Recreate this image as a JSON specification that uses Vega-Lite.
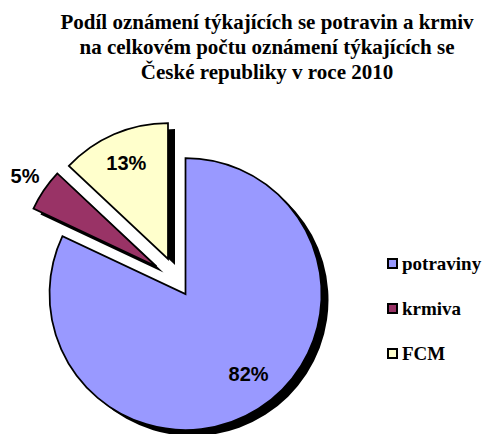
{
  "$schema": "https://vega.github.io/schema/vega-lite/v6.json",
  "width": 356,
  "height": 306,
  "autosize": {"type": "none"},
  "padding": {"left": 0, "top": 128, "right": 128, "bottom": 0},
  "background": "white",
  "title": {
    "text": ["Podíl oznámení týkajících se potravin a krmiv", "na celkovém počtu oznámení týkajících se", "České republiky v roce 2010"],
    "font": "Liberation Serif",
    "fontSize": 21,
    "fontWeight": "bold",
    "color": "black",
    "anchor": "middle",
    "dx": 89,
    "offset": 28,
    "lineHeight": 25
  },
  "data": {
    "values": [
      {"k": "potraviny", "v": 82, "o": 1, "lab": "82%"},
      {"k": "krmiva", "v": 5, "o": 2, "lab": "5%"},
      {"k": "FCM", "v": 13, "o": 3, "lab": "13%"}
    ]
  },
  "transform": [{"stack": "v", "groupby": [], "sort": [{"field": "o"}], "as": ["s", "e"]}],
  "layer": [
    {
      "transform": [{"filter": "datum.k==='potraviny'"}],
      "mark": {"type": "arc", "radius": 136, "fill": "black", "xOffset": 14.5, "yOffset": 19},
      "encoding": {"theta": {"field": "s", "type": "quantitative", "scale": {"domain": [0, 100]}}, "theta2": {"field": "e"}}
    },
    {
      "transform": [{"filter": "datum.k==='krmiva'"}],
      "mark": {"type": "arc", "radius": 136, "fill": "black", "xOffset": -14.5, "yOffset": -8.5},
      "encoding": {"theta": {"field": "s", "type": "quantitative", "scale": {"domain": [0, 100]}}, "theta2": {"field": "e"}}
    },
    {
      "transform": [{"filter": "datum.k==='FCM'"}],
      "mark": {"type": "arc", "radius": 136, "fill": "black", "xOffset": -3, "yOffset": -16},
      "encoding": {"theta": {"field": "s", "type": "quantitative", "scale": {"domain": [0, 100]}}, "theta2": {"field": "e"}}
    },
    {
      "transform": [{"filter": "datum.k==='potraviny'"}],
      "mark": {"type": "arc", "radius": 136, "stroke": "black", "strokeWidth": 1.75, "xOffset": 7.5, "yOffset": 13},
      "encoding": {
        "theta": {"field": "s", "type": "quantitative", "scale": {"domain": [0, 100]}},
        "theta2": {"field": "e"},
        "color": {
          "field": "k",
          "type": "nominal",
          "scale": {"domain": ["potraviny", "krmiva", "FCM"], "range": ["#9999FF", "#993366", "#FFFFCC"]},
          "legend": {
            "orient": "none",
            "legendX": 383,
            "legendY": 126,
            "title": null,
            "padding": 0,
            "symbolType": "square",
            "symbolSize": 81,
            "symbolStrokeColor": "black",
            "symbolStrokeWidth": 2,
            "labelFont": "Liberation Serif",
            "labelFontSize": 19,
            "labelFontWeight": "bold",
            "labelColor": "black",
            "labelOffset": 0,
            "rowPadding": 25
          }
        }
      }
    },
    {
      "transform": [{"filter": "datum.k==='krmiva'"}],
      "mark": {"type": "arc", "radius": 136, "stroke": "black", "strokeWidth": 1.75, "xOffset": -21.5, "yOffset": -14.5},
      "encoding": {
        "theta": {"field": "s", "type": "quantitative", "scale": {"domain": [0, 100]}},
        "theta2": {"field": "e"},
        "color": {"field": "k", "type": "nominal"}
      }
    },
    {
      "transform": [{"filter": "datum.k==='FCM'"}],
      "mark": {"type": "arc", "radius": 136, "stroke": "black", "strokeWidth": 1.75, "xOffset": -10, "yOffset": -22},
      "encoding": {
        "theta": {"field": "s", "type": "quantitative", "scale": {"domain": [0, 100]}},
        "theta2": {"field": "e"},
        "color": {"field": "k", "type": "nominal"}
      }
    },
    {
      "mark": {"type": "text", "radius": 100, "dx": 17, "dy": 10, "font": "Liberation Sans", "fontSize": 20, "fontWeight": "bold", "fill": "black", "baseline": "middle", "align": "center"},
      "encoding": {
        "theta": {"field": "v", "type": "quantitative", "stack": true},
        "order": {"field": "o", "type": "quantitative"},
        "text": {"condition": {"test": "datum.k==='potraviny'", "field": "lab"}, "value": ""}
      }
    },
    {
      "mark": {"type": "text", "radius": 105, "dx": -10, "dy": -21, "font": "Liberation Sans", "fontSize": 20, "fontWeight": "bold", "fill": "black", "baseline": "middle", "align": "center"},
      "encoding": {
        "theta": {"field": "v", "type": "quantitative", "stack": true},
        "order": {"field": "o", "type": "quantitative"},
        "text": {"condition": {"test": "datum.k==='FCM'", "field": "lab"}, "value": ""}
      }
    },
    {
      "mark": {"type": "text", "radius": 159, "dx": -21.5, "dy": -14.5, "font": "Liberation Sans", "fontSize": 20, "fontWeight": "bold", "fill": "black", "baseline": "middle", "align": "center"},
      "encoding": {
        "theta": {"field": "v", "type": "quantitative", "stack": true},
        "order": {"field": "o", "type": "quantitative"},
        "text": {"condition": {"test": "datum.k==='krmiva'", "field": "lab"}, "value": ""}
      }
    }
  ],
  "config": {"view": {"stroke": null}}
}
